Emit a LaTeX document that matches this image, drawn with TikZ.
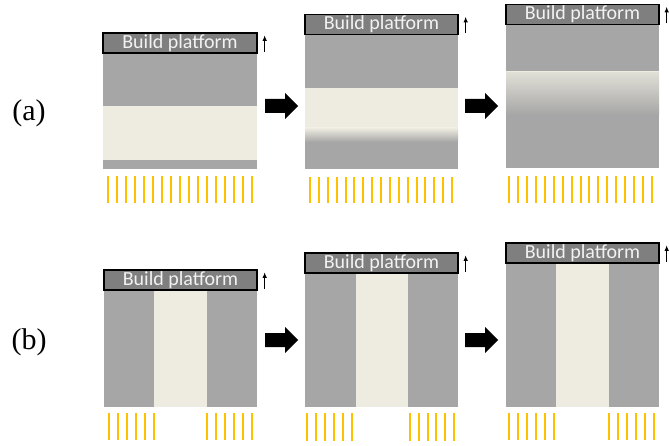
\documentclass[tikz,border=0pt]{standalone}
\usepackage{fontspec}
\setmainfont{Liberation Serif}
\newfontfamily\platfont{Carlito}

\definecolor{resin}{HTML}{EEECE1}
\definecolor{solidpart}{HTML}{A6A6A6}
\definecolor{platecol}{HTML}{7F7F7F}
\definecolor{platetext}{HTML}{F2F2F2}
\definecolor{uvlight}{HTML}{FFC000}

\usetikzlibrary{arrows.meta}
\tikzset{
  platform/.style={draw=black, line width=1.3pt, fill=platecol, text=platetext,
    minimum width=154pt, minimum height=20pt, inner sep=0pt,
    font=\platfont\fontsize{20}{20}\selectfont},
  uvray/.style={draw=uvlight, line width=1.05pt},
  liftarrow/.style={draw=black, line width=0.9pt, -{Latex[length=5.5pt,width=4.5pt]}},
  panel label/.style={font=\fontsize{30}{30}\selectfont, inner sep=0pt},
}

% fat black step arrow, tail at (#1,#2)
\newcommand{\steparrow}[2]{%
  \fill[black] (#1,#2-7) -- (#1+20,#2-7) -- (#1+20,#2-13) -- (#1+33,#2)
    -- (#1+20,#2+13) -- (#1+20,#2+7) -- (#1,#2+7) -- cycle;}

% a row of #1 light rays starting at x=#2 with spacing #3, from y=#4 to y=#5
\newcommand{\rays}[5]{%
  \foreach \i [evaluate=\i as \xx using {round(#2+#3*\i)}] in {0,...,#1}
    \draw[uvray] (\xx,#4) -- (\xx,#5);}

\begin{document}
\begin{tikzpicture}[x=1pt, y=-1pt]
\useasboundingbox (0,0) rectangle (669,446);

% ---------------- row (a): layer-wise curing ----------------
\node[panel label] (la) at (29,113) {(a)};

% stage 1
\fill[solidpart] (103,53) rectangle (257,169);
\fill[resin] (103,106) rectangle (257,160);
\node[platform] (pa1) at (180,43) {Build platform};
\rays{16}{108}{9}{176}{203}

% stage 2
\fill[solidpart] (305,34) rectangle (458,169);
\fill[resin] (305,88) rectangle (458,128);
\shade[top color=resin, bottom color=solidpart] (305,128) rectangle (458,142);
\node[platform, minimum width=153pt] (pa2) at (381.5,24.5) {Build platform};
\rays{16}{310}{8.875}{177}{203}

% stage 3
\fill[solidpart] (506,25) rectangle (659,168);
\fill[resin] (506,71) rectangle (659,73);
\shade[top color=resin!80!solidpart, bottom color=solidpart] (506,73) rectangle (659,115);
\node[platform, minimum width=153pt] (pa3) at (582.5,14.5) {Build platform};
\rays{16}{509}{8.94}{176}{203}

\steparrow{265}{106}
\steparrow{465}{106}

% ---------------- row (b): continuous column ----------------
\node[panel label] (lb) at (29,342) {(b)};

% stage 1
\fill[solidpart] (104,290) rectangle (257,407);
\fill[resin] (154,290) rectangle (207,407);
\node[platform, minimum width=153pt] (pb1) at (180.5,280) {Build platform};
\rays{5}{109}{9}{413}{440}
\rays{5}{207}{9}{413}{440}

% stage 2
\fill[solidpart] (305,273) rectangle (458,407);
\fill[resin] (356,273) rectangle (408,407);
\node[platform, minimum width=153pt] (pb2) at (381.5,263) {Build platform};
\rays{5}{307}{9}{413}{441}
\rays{5}{410}{8.8}{413}{441}

% stage 3
\fill[solidpart] (506,263) rectangle (659,407);
\fill[resin] (556,263) rectangle (609,407);
\node[platform, minimum width=153pt] (pb3) at (582.5,253) {Build platform};
\rays{5}{509}{9}{413}{440}
\rays{5}{609}{9}{413}{440}

\steparrow{265}{340}
\steparrow{465}{340}

% small lift arrows beside each platform
\foreach \p in {pa1,pa2,pa3,pb1,pb2,pb3}
  \draw[liftarrow] ([shift={(7pt,2pt)}]\p.south east) -- ([shift={(7pt,-3pt)}]\p.north east);
\end{tikzpicture}
\end{document}
